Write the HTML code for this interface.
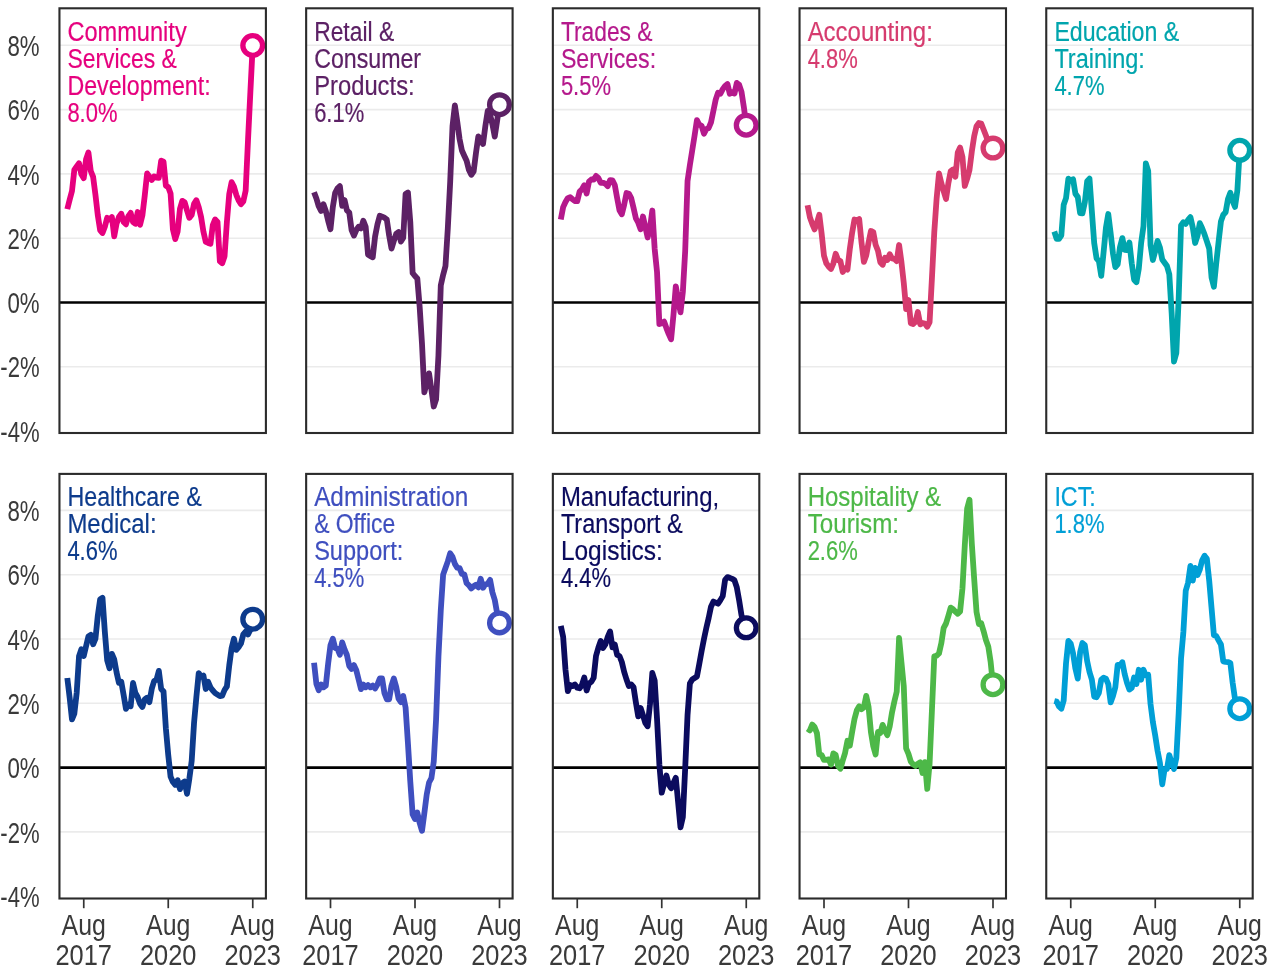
<!DOCTYPE html>
<html lang="en"><head><meta charset="utf-8"><title>Job ads growth by industry</title>
<style>
html,body{margin:0;padding:0;background:#fff}
svg{display:block}
text{font-family:"Liberation Sans",sans-serif}
.ax{font-size:28.9px;fill:#3a3a3a}
.tt{font-size:27.0px;stroke-width:0.2}
.grid line{stroke:#ebebeb;stroke-width:1.6}
.ln{fill:none;stroke-width:5.8;stroke-linejoin:round;stroke-linecap:butt}
</style></head><body>
<svg width="1280" height="979" viewBox="0 0 1280 979">
<rect width="1280" height="979" fill="#fff"/>
<text class="ax" x="39.6" y="55.9" text-anchor="end" textLength="32.2" lengthAdjust="spacingAndGlyphs">8%</text>
<text class="ax" x="39.6" y="120.2" text-anchor="end" textLength="32.2" lengthAdjust="spacingAndGlyphs">6%</text>
<text class="ax" x="39.6" y="184.5" text-anchor="end" textLength="32.2" lengthAdjust="spacingAndGlyphs">4%</text>
<text class="ax" x="39.6" y="248.8" text-anchor="end" textLength="32.2" lengthAdjust="spacingAndGlyphs">2%</text>
<text class="ax" x="39.6" y="313.1" text-anchor="end" textLength="32.2" lengthAdjust="spacingAndGlyphs">0%</text>
<text class="ax" x="39.6" y="377.4" text-anchor="end" textLength="39.3" lengthAdjust="spacingAndGlyphs">-2%</text>
<text class="ax" x="39.6" y="441.7" text-anchor="end" textLength="39.3" lengthAdjust="spacingAndGlyphs">-4%</text>
<g>
<g class="grid">
<line x1="59.45" x2="265.90" y1="45.30" y2="45.30"/>
<line x1="59.45" x2="265.90" y1="109.60" y2="109.60"/>
<line x1="59.45" x2="265.90" y1="173.90" y2="173.90"/>
<line x1="59.45" x2="265.90" y1="238.20" y2="238.20"/>
<line x1="59.45" x2="265.90" y1="366.80" y2="366.80"/>
</g>
<line x1="59.45" x2="265.90" y1="302.50" y2="302.50" stroke="#000" stroke-width="2.7"/>
<text class="tt" fill="#e6007e" stroke="#e6007e" x="67.40" y="40.7" textLength="119.3" lengthAdjust="spacingAndGlyphs">Community</text>
<text class="tt" fill="#e6007e" stroke="#e6007e" x="67.40" y="67.7" textLength="109.5" lengthAdjust="spacingAndGlyphs">Services &amp;</text>
<text class="tt" fill="#e6007e" stroke="#e6007e" x="67.40" y="94.8" textLength="143.2" lengthAdjust="spacingAndGlyphs">Development:</text>
<text class="tt" fill="#e6007e" stroke="#e6007e" x="67.40" y="121.8" textLength="50.1" lengthAdjust="spacingAndGlyphs">8.0%</text>
<polyline class="ln" stroke="#e6007e" points="67.30,209.1 69.65,199.7 71.99,191.0 74.34,169.9 76.69,166.4 79.03,163.3 81.38,174.3 83.73,178.1 86.08,159.2 88.42,152.5 90.77,171.0 93.12,176.8 95.46,194.8 97.81,215.3 100.16,230.4 102.50,233.0 104.85,226.8 107.20,217.8 109.55,219.4 111.89,217.0 114.24,236.3 116.59,223.5 118.93,217.0 121.28,213.7 123.63,221.9 125.97,224.3 128.32,216.1 130.67,212.9 133.02,221.9 135.36,223.8 137.71,212.0 140.06,224.8 142.40,215.3 144.75,195.6 147.10,173.5 149.44,176.8 151.79,180.0 154.14,176.4 156.49,177.6 158.83,177.9 161.18,160.7 163.53,161.7 165.87,185.8 168.22,187.1 170.57,193.5 172.91,229.4 175.26,239.1 177.61,231.7 179.96,208.8 182.30,200.9 184.65,202.2 187.00,210.4 189.34,217.8 191.69,215.0 194.04,203.8 196.38,200.2 198.73,207.1 201.08,217.0 203.43,231.7 205.77,241.9 208.12,242.9 210.47,243.7 212.81,225.2 215.16,219.4 217.51,221.9 219.86,261.3 222.20,263.2 224.55,256.3 226.90,221.9 229.24,194.0 231.59,182.2 233.94,186.6 236.28,194.8 238.63,200.5 240.98,204.2 243.32,201.4 245.67,190.7 248.02,140.0 250.37,92.0 252.71,45.5"/>
<circle cx="252.71" cy="45.5" r="9.85" fill="#fff" stroke="#e6007e" stroke-width="5.3"/>
<rect x="59.45" y="8.30" width="206.45" height="424.70" fill="none" stroke="#2b2b2b" stroke-width="2.1"/>
</g>
<g>
<g class="grid">
<line x1="306.15" x2="512.60" y1="45.30" y2="45.30"/>
<line x1="306.15" x2="512.60" y1="109.60" y2="109.60"/>
<line x1="306.15" x2="512.60" y1="173.90" y2="173.90"/>
<line x1="306.15" x2="512.60" y1="238.20" y2="238.20"/>
<line x1="306.15" x2="512.60" y1="366.80" y2="366.80"/>
</g>
<line x1="306.15" x2="512.60" y1="302.50" y2="302.50" stroke="#000" stroke-width="2.7"/>
<text class="tt" fill="#5c2165" stroke="#5c2165" x="314.15" y="40.7" textLength="80.0" lengthAdjust="spacingAndGlyphs">Retail &amp;</text>
<text class="tt" fill="#5c2165" stroke="#5c2165" x="314.15" y="67.7" textLength="106.9" lengthAdjust="spacingAndGlyphs">Consumer</text>
<text class="tt" fill="#5c2165" stroke="#5c2165" x="314.15" y="94.8" textLength="100.5" lengthAdjust="spacingAndGlyphs">Products:</text>
<text class="tt" fill="#5c2165" stroke="#5c2165" x="314.15" y="121.8" textLength="50.1" lengthAdjust="spacingAndGlyphs">6.1%</text>
<polyline class="ln" stroke="#5c2165" points="314.05,192.3 316.40,198.5 318.74,206.3 321.09,211.0 323.44,204.3 325.79,210.9 328.13,220.7 330.48,229.2 332.83,207.0 335.17,192.8 337.52,188.4 339.87,186.2 342.21,205.9 344.56,200.1 346.91,210.3 349.25,212.5 351.60,230.0 353.95,235.5 356.30,230.0 358.64,226.7 360.99,228.4 363.34,220.7 365.68,226.7 368.03,254.6 370.38,256.2 372.73,257.3 375.07,236.6 377.42,224.5 379.77,215.8 382.11,216.7 384.46,217.7 386.81,219.6 389.15,235.5 391.50,248.6 393.85,240.9 396.19,233.8 398.54,232.0 400.89,241.6 403.24,237.7 405.58,193.9 407.93,192.5 410.28,222.0 412.62,273.0 414.97,276.0 417.32,278.5 419.67,307.0 422.01,344.0 424.36,392.3 426.71,383.0 429.05,373.4 431.40,389.6 433.75,406.5 436.09,399.4 438.44,355.7 440.79,285.3 443.13,274.9 445.48,265.9 447.83,228.0 450.18,182.0 452.52,126.0 454.87,105.3 457.22,121.5 459.56,139.0 461.91,150.5 464.26,155.7 466.61,160.7 468.95,170.0 471.30,174.8 473.65,171.3 475.99,152.9 478.34,136.4 480.69,140.7 483.03,144.0 485.38,125.9 487.73,111.0 490.08,114.6 492.42,124.3 494.77,136.6 497.12,120.8 499.46,104.7"/>
<circle cx="499.46" cy="104.7" r="9.85" fill="#fff" stroke="#5c2165" stroke-width="5.3"/>
<rect x="306.15" y="8.30" width="206.45" height="424.70" fill="none" stroke="#2b2b2b" stroke-width="2.1"/>
</g>
<g>
<g class="grid">
<line x1="552.85" x2="759.30" y1="45.30" y2="45.30"/>
<line x1="552.85" x2="759.30" y1="109.60" y2="109.60"/>
<line x1="552.85" x2="759.30" y1="173.90" y2="173.90"/>
<line x1="552.85" x2="759.30" y1="238.20" y2="238.20"/>
<line x1="552.85" x2="759.30" y1="366.80" y2="366.80"/>
</g>
<line x1="552.85" x2="759.30" y1="302.50" y2="302.50" stroke="#000" stroke-width="2.7"/>
<text class="tt" fill="#b5198c" stroke="#b5198c" x="560.90" y="40.7" textLength="91.6" lengthAdjust="spacingAndGlyphs">Trades &amp;</text>
<text class="tt" fill="#b5198c" stroke="#b5198c" x="560.90" y="67.7" textLength="95.2" lengthAdjust="spacingAndGlyphs">Services:</text>
<text class="tt" fill="#b5198c" stroke="#b5198c" x="560.90" y="94.8" textLength="50.1" lengthAdjust="spacingAndGlyphs">5.5%</text>
<polyline class="ln" stroke="#b5198c" points="560.80,219.5 563.15,207.1 565.49,202.0 567.84,198.1 570.19,197.2 572.53,199.2 574.88,201.1 577.23,201.2 579.58,191.6 581.92,189.4 584.27,185.2 586.62,193.5 588.96,181.7 591.31,179.5 593.66,179.7 596.00,175.9 598.35,177.9 600.70,182.8 603.05,182.8 605.39,183.7 607.74,186.1 610.09,180.1 612.43,180.4 614.78,185.0 617.13,198.1 619.47,210.2 621.82,214.3 624.17,204.7 626.52,193.0 628.86,193.7 631.21,198.1 633.56,208.0 635.90,218.4 638.25,222.7 640.60,229.3 642.94,216.5 645.29,226.6 647.64,237.5 649.99,228.2 652.33,210.5 654.68,249.0 657.03,272.0 659.37,324.0 661.72,323.2 664.07,321.6 666.41,328.1 668.76,334.1 671.11,339.3 673.46,315.0 675.80,286.3 678.15,299.7 680.50,312.3 682.84,292.0 685.19,251.0 687.54,181.0 689.88,165.2 692.23,150.4 694.58,135.6 696.93,120.1 699.27,124.7 701.62,125.8 703.97,133.7 706.31,129.1 708.66,128.0 711.01,122.3 713.36,111.0 715.70,99.7 718.05,92.7 720.40,93.7 722.74,89.1 725.09,85.9 727.44,84.0 729.78,93.7 732.13,92.4 734.48,93.5 736.82,82.9 739.17,84.8 741.52,91.9 743.87,107.2 746.21,125.2"/>
<circle cx="746.21" cy="125.2" r="9.85" fill="#fff" stroke="#b5198c" stroke-width="5.3"/>
<rect x="552.85" y="8.30" width="206.45" height="424.70" fill="none" stroke="#2b2b2b" stroke-width="2.1"/>
</g>
<g>
<g class="grid">
<line x1="799.55" x2="1006.00" y1="45.30" y2="45.30"/>
<line x1="799.55" x2="1006.00" y1="109.60" y2="109.60"/>
<line x1="799.55" x2="1006.00" y1="173.90" y2="173.90"/>
<line x1="799.55" x2="1006.00" y1="238.20" y2="238.20"/>
<line x1="799.55" x2="1006.00" y1="366.80" y2="366.80"/>
</g>
<line x1="799.55" x2="1006.00" y1="302.50" y2="302.50" stroke="#000" stroke-width="2.7"/>
<text class="tt" fill="#d63b6e" stroke="#d63b6e" x="807.65" y="40.7" textLength="125.2" lengthAdjust="spacingAndGlyphs">Accounting:</text>
<text class="tt" fill="#d63b6e" stroke="#d63b6e" x="807.65" y="67.7" textLength="50.1" lengthAdjust="spacingAndGlyphs">4.8%</text>
<polyline class="ln" stroke="#d63b6e" points="807.55,205.3 809.90,217.3 812.24,223.9 814.59,229.4 816.94,222.8 819.28,214.7 821.63,233.7 823.98,255.6 826.33,263.3 828.67,266.6 831.02,269.0 833.37,263.3 835.71,253.7 838.06,260.0 840.41,261.1 842.75,272.0 845.10,268.2 847.45,269.6 849.80,249.1 852.14,232.7 854.49,219.5 856.84,220.8 859.18,219.0 861.53,242.5 863.88,261.9 866.22,255.6 868.57,242.5 870.92,231.0 873.27,232.1 875.61,244.7 877.96,250.7 880.31,262.2 882.65,264.8 885.00,257.8 887.35,260.0 889.69,254.3 892.04,258.4 894.39,258.9 896.74,261.1 899.08,245.0 901.43,262.0 903.78,283.0 906.12,309.0 908.47,300.0 910.82,323.2 913.16,324.0 915.51,321.6 917.86,312.0 920.21,324.3 922.55,323.2 924.90,323.7 927.25,326.7 929.59,322.1 931.94,278.0 934.29,232.0 936.63,198.4 938.98,173.4 941.33,183.1 943.68,191.3 946.02,199.0 948.37,183.1 950.72,171.1 953.06,169.5 955.41,176.8 957.76,152.5 960.11,147.6 962.45,156.9 964.80,185.9 967.15,178.7 969.49,170.0 971.84,151.4 974.19,136.1 976.53,126.2 978.88,123.0 981.23,123.5 983.57,129.5 985.92,135.5 988.27,142.1 990.62,146.5 992.96,148.1"/>
<circle cx="992.96" cy="148.1" r="9.85" fill="#fff" stroke="#d63b6e" stroke-width="5.3"/>
<rect x="799.55" y="8.30" width="206.45" height="424.70" fill="none" stroke="#2b2b2b" stroke-width="2.1"/>
</g>
<g>
<g class="grid">
<line x1="1046.25" x2="1252.70" y1="45.30" y2="45.30"/>
<line x1="1046.25" x2="1252.70" y1="109.60" y2="109.60"/>
<line x1="1046.25" x2="1252.70" y1="173.90" y2="173.90"/>
<line x1="1046.25" x2="1252.70" y1="238.20" y2="238.20"/>
<line x1="1046.25" x2="1252.70" y1="366.80" y2="366.80"/>
</g>
<line x1="1046.25" x2="1252.70" y1="302.50" y2="302.50" stroke="#000" stroke-width="2.7"/>
<text class="tt" fill="#00a5ad" stroke="#00a5ad" x="1054.40" y="40.7" textLength="124.8" lengthAdjust="spacingAndGlyphs">Education &amp;</text>
<text class="tt" fill="#00a5ad" stroke="#00a5ad" x="1054.40" y="67.7" textLength="90.5" lengthAdjust="spacingAndGlyphs">Training:</text>
<text class="tt" fill="#00a5ad" stroke="#00a5ad" x="1054.40" y="94.8" textLength="50.1" lengthAdjust="spacingAndGlyphs">4.7%</text>
<polyline class="ln" stroke="#00a5ad" points="1054.30,231.5 1056.65,238.8 1058.99,238.8 1061.34,235.3 1063.69,204.7 1066.03,198.1 1068.38,178.7 1070.73,180.8 1073.08,179.3 1075.42,193.7 1077.77,197.0 1080.12,213.1 1082.46,213.4 1084.81,202.5 1087.16,181.2 1089.50,178.7 1091.85,211.2 1094.20,243.0 1096.55,258.4 1098.89,261.1 1101.24,275.9 1103.59,252.3 1105.93,227.7 1108.28,214.0 1110.63,233.2 1112.97,253.4 1115.32,267.1 1117.67,264.4 1120.02,246.9 1122.36,238.1 1124.71,249.9 1127.06,250.2 1129.40,242.5 1131.75,263.3 1134.10,279.7 1136.44,282.2 1138.79,268.7 1141.14,243.0 1143.49,226.1 1145.83,163.5 1148.18,170.8 1150.53,245.0 1152.87,260.0 1155.22,251.2 1157.57,240.9 1159.91,247.4 1162.26,259.5 1164.61,262.7 1166.96,266.0 1169.30,274.2 1171.65,313.0 1174.00,361.5 1176.34,353.0 1178.69,298.0 1181.04,225.5 1183.38,222.2 1185.73,223.9 1188.08,219.9 1190.43,217.1 1192.77,227.5 1195.12,243.0 1197.47,235.9 1199.81,223.2 1202.16,228.3 1204.51,234.3 1206.86,241.4 1209.20,248.5 1211.55,277.5 1213.90,286.8 1216.24,263.3 1218.59,241.7 1220.94,221.4 1223.28,214.8 1225.63,212.3 1227.98,199.1 1230.33,192.8 1232.67,201.1 1235.02,206.9 1237.37,190.4 1239.71,150.3"/>
<circle cx="1239.71" cy="150.3" r="9.85" fill="#fff" stroke="#00a5ad" stroke-width="5.3"/>
<rect x="1046.25" y="8.30" width="206.45" height="424.70" fill="none" stroke="#2b2b2b" stroke-width="2.1"/>
</g>
<text class="ax" x="39.6" y="521.0" text-anchor="end" textLength="32.2" lengthAdjust="spacingAndGlyphs">8%</text>
<text class="ax" x="39.6" y="585.3" text-anchor="end" textLength="32.2" lengthAdjust="spacingAndGlyphs">6%</text>
<text class="ax" x="39.6" y="649.6" text-anchor="end" textLength="32.2" lengthAdjust="spacingAndGlyphs">4%</text>
<text class="ax" x="39.6" y="713.9" text-anchor="end" textLength="32.2" lengthAdjust="spacingAndGlyphs">2%</text>
<text class="ax" x="39.6" y="778.2" text-anchor="end" textLength="32.2" lengthAdjust="spacingAndGlyphs">0%</text>
<text class="ax" x="39.6" y="842.5" text-anchor="end" textLength="39.3" lengthAdjust="spacingAndGlyphs">-2%</text>
<text class="ax" x="39.6" y="906.8" text-anchor="end" textLength="39.3" lengthAdjust="spacingAndGlyphs">-4%</text>
<g>
<g class="grid">
<line x1="59.45" x2="265.90" y1="510.40" y2="510.40"/>
<line x1="59.45" x2="265.90" y1="574.70" y2="574.70"/>
<line x1="59.45" x2="265.90" y1="639.00" y2="639.00"/>
<line x1="59.45" x2="265.90" y1="703.30" y2="703.30"/>
<line x1="59.45" x2="265.90" y1="831.90" y2="831.90"/>
</g>
<line x1="59.45" x2="265.90" y1="767.60" y2="767.60" stroke="#000" stroke-width="2.7"/>
<text class="tt" fill="#0d3b8c" stroke="#0d3b8c" x="67.40" y="505.8" textLength="134.5" lengthAdjust="spacingAndGlyphs">Healthcare &amp;</text>
<text class="tt" fill="#0d3b8c" stroke="#0d3b8c" x="67.40" y="532.8" textLength="89.2" lengthAdjust="spacingAndGlyphs">Medical:</text>
<text class="tt" fill="#0d3b8c" stroke="#0d3b8c" x="67.40" y="559.9" textLength="50.1" lengthAdjust="spacingAndGlyphs">4.6%</text>
<polyline class="ln" stroke="#0d3b8c" points="67.30,678.0 69.65,697.7 71.99,719.4 74.34,713.6 76.69,692.8 79.03,656.1 81.38,649.2 83.73,656.1 86.08,646.2 88.42,636.4 90.77,634.8 93.12,644.3 95.46,638.6 97.81,615.6 100.16,599.2 102.50,597.9 104.85,632.0 107.20,660.5 109.55,668.3 111.89,653.9 114.24,659.4 116.59,672.5 118.93,682.9 121.28,681.8 123.63,695.0 125.97,708.9 128.32,704.8 130.67,706.2 133.02,683.0 135.36,692.8 137.71,697.2 140.06,703.7 142.40,707.0 144.75,699.4 147.10,697.7 149.44,702.1 151.79,688.7 154.14,681.0 156.49,679.7 158.83,670.9 161.18,689.0 163.53,691.5 165.87,728.4 168.22,754.7 170.57,776.6 172.91,782.0 175.26,784.8 177.61,780.2 179.96,789.1 182.30,783.1 184.65,781.5 187.00,793.8 189.34,778.7 191.69,760.9 194.04,723.0 196.38,697.0 198.73,673.1 201.08,676.7 203.43,675.5 205.77,689.0 208.12,681.8 210.47,687.4 212.81,690.5 215.16,693.1 217.51,694.6 219.86,696.1 222.20,695.6 224.55,690.0 226.90,686.4 229.24,665.5 231.59,648.1 233.94,638.7 236.28,649.9 238.63,647.1 240.98,643.5 243.32,634.3 245.67,631.5 248.02,634.5 250.37,629.7 252.71,619.2"/>
<circle cx="252.71" cy="619.2" r="9.85" fill="#fff" stroke="#0d3b8c" stroke-width="5.3"/>
<rect x="59.45" y="473.90" width="206.45" height="424.60" fill="none" stroke="#2b2b2b" stroke-width="2.1"/>
<line x1="83.75" x2="83.75" y1="898.50" y2="908.20" stroke="#333" stroke-width="1.7"/>
<text class="ax" x="83.75" y="935.4" text-anchor="middle" textLength="44.3" lengthAdjust="spacingAndGlyphs">Aug</text>
<text class="ax" x="83.75" y="965.2" text-anchor="middle" textLength="56.5" lengthAdjust="spacingAndGlyphs">2017</text>
<line x1="168.25" x2="168.25" y1="898.50" y2="908.20" stroke="#333" stroke-width="1.7"/>
<text class="ax" x="168.25" y="935.4" text-anchor="middle" textLength="44.3" lengthAdjust="spacingAndGlyphs">Aug</text>
<text class="ax" x="168.25" y="965.2" text-anchor="middle" textLength="56.5" lengthAdjust="spacingAndGlyphs">2020</text>
<line x1="252.75" x2="252.75" y1="898.50" y2="908.20" stroke="#333" stroke-width="1.7"/>
<text class="ax" x="252.75" y="935.4" text-anchor="middle" textLength="44.3" lengthAdjust="spacingAndGlyphs">Aug</text>
<text class="ax" x="252.75" y="965.2" text-anchor="middle" textLength="56.5" lengthAdjust="spacingAndGlyphs">2023</text>
</g>
<g>
<g class="grid">
<line x1="306.15" x2="512.60" y1="510.40" y2="510.40"/>
<line x1="306.15" x2="512.60" y1="574.70" y2="574.70"/>
<line x1="306.15" x2="512.60" y1="639.00" y2="639.00"/>
<line x1="306.15" x2="512.60" y1="703.30" y2="703.30"/>
<line x1="306.15" x2="512.60" y1="831.90" y2="831.90"/>
</g>
<line x1="306.15" x2="512.60" y1="767.60" y2="767.60" stroke="#000" stroke-width="2.7"/>
<text class="tt" fill="#3f4fbf" stroke="#3f4fbf" x="314.15" y="505.8" textLength="154.2" lengthAdjust="spacingAndGlyphs">Administration</text>
<text class="tt" fill="#3f4fbf" stroke="#3f4fbf" x="314.15" y="532.8" textLength="81.1" lengthAdjust="spacingAndGlyphs">&amp; Office</text>
<text class="tt" fill="#3f4fbf" stroke="#3f4fbf" x="314.15" y="559.9" textLength="89.1" lengthAdjust="spacingAndGlyphs">Support:</text>
<text class="tt" fill="#3f4fbf" stroke="#3f4fbf" x="314.15" y="586.9" textLength="50.1" lengthAdjust="spacingAndGlyphs">4.5%</text>
<polyline class="ln" stroke="#3f4fbf" points="314.05,662.7 316.40,684.0 318.74,690.2 321.09,684.5 323.44,687.3 325.79,685.6 328.13,663.7 330.48,645.2 332.83,638.8 335.17,647.9 337.52,649.0 339.87,654.7 342.21,642.4 344.56,649.5 346.91,655.0 349.25,665.9 351.60,668.9 353.95,665.1 356.30,670.3 358.64,679.6 360.99,689.1 363.34,684.5 365.68,687.3 368.03,685.1 370.38,687.3 372.73,685.6 375.07,688.4 377.42,684.5 379.77,678.5 382.11,678.5 384.46,693.3 386.81,699.3 389.15,699.3 391.50,685.6 393.85,678.5 396.19,686.7 398.54,698.7 400.89,702.2 403.24,696.0 405.58,707.5 407.93,743.1 410.28,781.4 412.62,814.2 414.97,819.1 417.32,812.6 419.67,823.0 422.01,830.8 424.36,813.1 426.71,794.5 429.05,782.5 431.40,778.1 433.75,761.7 436.09,719.1 438.44,656.9 440.79,610.2 443.13,574.6 445.48,568.0 447.83,561.4 450.18,553.3 452.52,556.8 454.87,563.9 457.22,567.7 459.56,568.1 461.91,573.9 464.26,574.3 466.61,583.2 468.95,585.3 471.30,588.5 473.65,586.3 475.99,584.8 478.34,587.3 480.69,578.7 483.03,587.8 485.38,584.3 487.73,583.8 490.08,579.9 492.42,592.4 494.77,600.0 497.12,613.2 499.46,622.9"/>
<circle cx="499.46" cy="622.9" r="9.85" fill="#fff" stroke="#3f4fbf" stroke-width="5.3"/>
<rect x="306.15" y="473.90" width="206.45" height="424.60" fill="none" stroke="#2b2b2b" stroke-width="2.1"/>
<line x1="330.50" x2="330.50" y1="898.50" y2="908.20" stroke="#333" stroke-width="1.7"/>
<text class="ax" x="330.50" y="935.4" text-anchor="middle" textLength="44.3" lengthAdjust="spacingAndGlyphs">Aug</text>
<text class="ax" x="330.50" y="965.2" text-anchor="middle" textLength="56.5" lengthAdjust="spacingAndGlyphs">2017</text>
<line x1="415.00" x2="415.00" y1="898.50" y2="908.20" stroke="#333" stroke-width="1.7"/>
<text class="ax" x="415.00" y="935.4" text-anchor="middle" textLength="44.3" lengthAdjust="spacingAndGlyphs">Aug</text>
<text class="ax" x="415.00" y="965.2" text-anchor="middle" textLength="56.5" lengthAdjust="spacingAndGlyphs">2020</text>
<line x1="499.50" x2="499.50" y1="898.50" y2="908.20" stroke="#333" stroke-width="1.7"/>
<text class="ax" x="499.50" y="935.4" text-anchor="middle" textLength="44.3" lengthAdjust="spacingAndGlyphs">Aug</text>
<text class="ax" x="499.50" y="965.2" text-anchor="middle" textLength="56.5" lengthAdjust="spacingAndGlyphs">2023</text>
</g>
<g>
<g class="grid">
<line x1="552.85" x2="759.30" y1="510.40" y2="510.40"/>
<line x1="552.85" x2="759.30" y1="574.70" y2="574.70"/>
<line x1="552.85" x2="759.30" y1="639.00" y2="639.00"/>
<line x1="552.85" x2="759.30" y1="703.30" y2="703.30"/>
<line x1="552.85" x2="759.30" y1="831.90" y2="831.90"/>
</g>
<line x1="552.85" x2="759.30" y1="767.60" y2="767.60" stroke="#000" stroke-width="2.7"/>
<text class="tt" fill="#0b0b5e" stroke="#0b0b5e" x="560.90" y="505.8" textLength="158.2" lengthAdjust="spacingAndGlyphs">Manufacturing,</text>
<text class="tt" fill="#0b0b5e" stroke="#0b0b5e" x="560.90" y="532.8" textLength="121.9" lengthAdjust="spacingAndGlyphs">Transport &amp;</text>
<text class="tt" fill="#0b0b5e" stroke="#0b0b5e" x="560.90" y="559.9" textLength="102.0" lengthAdjust="spacingAndGlyphs">Logistics:</text>
<text class="tt" fill="#0b0b5e" stroke="#0b0b5e" x="560.90" y="586.9" textLength="50.1" lengthAdjust="spacingAndGlyphs">4.4%</text>
<polyline class="ln" stroke="#0b0b5e" points="560.80,625.9 563.15,636.9 565.49,669.7 567.84,691.2 570.19,685.0 572.53,686.1 574.88,684.5 577.23,687.7 579.58,688.3 581.92,685.0 584.27,677.6 586.62,690.5 588.96,683.4 591.31,681.9 593.66,677.9 596.00,656.0 598.35,647.8 600.70,640.9 603.05,648.0 605.39,644.5 607.74,636.9 610.09,631.4 612.43,647.3 614.78,644.5 617.13,654.9 619.47,656.0 621.82,662.0 624.17,671.9 626.52,679.5 628.86,686.1 631.21,684.5 633.56,687.2 635.90,702.5 638.25,716.4 640.60,708.0 642.94,715.2 645.29,722.8 647.64,726.3 649.99,704.2 652.33,673.0 654.68,680.6 657.03,719.0 659.37,764.4 661.72,792.7 664.07,783.7 666.41,775.5 668.76,784.5 671.11,788.2 673.46,782.9 675.80,777.8 678.15,802.5 680.50,827.4 682.84,817.2 685.19,768.2 687.54,715.0 689.88,683.5 692.23,679.5 694.58,678.0 696.93,676.5 699.27,664.0 701.62,651.0 703.97,639.0 706.31,628.0 708.66,618.0 711.01,606.7 713.36,601.6 715.70,602.7 718.05,603.7 720.40,600.1 722.74,596.1 725.09,579.8 727.44,577.1 729.78,577.8 732.13,578.8 734.48,580.3 736.82,587.4 739.17,600.6 741.52,615.4 743.87,622.0 746.21,627.8"/>
<circle cx="746.21" cy="627.8" r="9.85" fill="#fff" stroke="#0b0b5e" stroke-width="5.3"/>
<rect x="552.85" y="473.90" width="206.45" height="424.60" fill="none" stroke="#2b2b2b" stroke-width="2.1"/>
<line x1="577.25" x2="577.25" y1="898.50" y2="908.20" stroke="#333" stroke-width="1.7"/>
<text class="ax" x="577.25" y="935.4" text-anchor="middle" textLength="44.3" lengthAdjust="spacingAndGlyphs">Aug</text>
<text class="ax" x="577.25" y="965.2" text-anchor="middle" textLength="56.5" lengthAdjust="spacingAndGlyphs">2017</text>
<line x1="661.75" x2="661.75" y1="898.50" y2="908.20" stroke="#333" stroke-width="1.7"/>
<text class="ax" x="661.75" y="935.4" text-anchor="middle" textLength="44.3" lengthAdjust="spacingAndGlyphs">Aug</text>
<text class="ax" x="661.75" y="965.2" text-anchor="middle" textLength="56.5" lengthAdjust="spacingAndGlyphs">2020</text>
<line x1="746.25" x2="746.25" y1="898.50" y2="908.20" stroke="#333" stroke-width="1.7"/>
<text class="ax" x="746.25" y="935.4" text-anchor="middle" textLength="44.3" lengthAdjust="spacingAndGlyphs">Aug</text>
<text class="ax" x="746.25" y="965.2" text-anchor="middle" textLength="56.5" lengthAdjust="spacingAndGlyphs">2023</text>
</g>
<g>
<g class="grid">
<line x1="799.55" x2="1006.00" y1="510.40" y2="510.40"/>
<line x1="799.55" x2="1006.00" y1="574.70" y2="574.70"/>
<line x1="799.55" x2="1006.00" y1="639.00" y2="639.00"/>
<line x1="799.55" x2="1006.00" y1="703.30" y2="703.30"/>
<line x1="799.55" x2="1006.00" y1="831.90" y2="831.90"/>
</g>
<line x1="799.55" x2="1006.00" y1="767.60" y2="767.60" stroke="#000" stroke-width="2.7"/>
<text class="tt" fill="#4db848" stroke="#4db848" x="807.65" y="505.8" textLength="133.5" lengthAdjust="spacingAndGlyphs">Hospitality &amp;</text>
<text class="tt" fill="#4db848" stroke="#4db848" x="807.65" y="532.8" textLength="91.4" lengthAdjust="spacingAndGlyphs">Tourism:</text>
<text class="tt" fill="#4db848" stroke="#4db848" x="807.65" y="559.9" textLength="50.1" lengthAdjust="spacingAndGlyphs">2.6%</text>
<polyline class="ln" stroke="#4db848" points="807.55,728.7 809.90,730.4 812.24,724.6 814.59,727.1 816.94,733.1 819.28,754.5 821.63,755.0 823.98,759.9 826.33,759.9 828.67,759.4 831.02,764.6 833.37,753.4 835.71,755.0 838.06,765.9 840.41,768.7 842.75,760.5 845.10,752.8 847.45,740.8 849.80,745.7 852.14,732.0 854.49,718.9 856.84,710.2 859.18,706.3 861.53,709.1 863.88,707.4 866.22,695.9 868.57,706.9 870.92,732.0 873.27,746.2 875.61,754.5 877.96,732.0 880.31,733.1 882.65,724.9 885.00,730.9 887.35,735.1 889.69,726.6 892.04,712.3 894.39,701.4 896.74,691.6 899.08,638.0 901.43,662.3 903.78,686.4 906.12,748.4 908.47,753.9 910.82,761.6 913.16,764.3 915.51,765.9 917.86,763.7 920.21,762.4 922.55,773.0 924.90,762.1 927.25,788.9 929.59,763.7 931.94,710.2 934.29,656.3 936.63,655.7 938.98,653.5 941.33,643.2 943.68,627.8 946.02,623.5 948.37,615.8 950.72,607.6 953.06,609.2 955.41,611.7 957.76,613.8 960.11,611.4 962.45,588.5 964.80,545.2 967.15,508.4 969.49,499.7 971.84,544.0 974.19,579.0 976.53,612.0 978.88,624.0 981.23,623.2 983.57,631.1 985.92,639.9 988.27,646.4 990.62,661.7 992.96,684.7"/>
<circle cx="992.96" cy="684.7" r="9.85" fill="#fff" stroke="#4db848" stroke-width="5.3"/>
<rect x="799.55" y="473.90" width="206.45" height="424.60" fill="none" stroke="#2b2b2b" stroke-width="2.1"/>
<line x1="824.00" x2="824.00" y1="898.50" y2="908.20" stroke="#333" stroke-width="1.7"/>
<text class="ax" x="824.00" y="935.4" text-anchor="middle" textLength="44.3" lengthAdjust="spacingAndGlyphs">Aug</text>
<text class="ax" x="824.00" y="965.2" text-anchor="middle" textLength="56.5" lengthAdjust="spacingAndGlyphs">2017</text>
<line x1="908.50" x2="908.50" y1="898.50" y2="908.20" stroke="#333" stroke-width="1.7"/>
<text class="ax" x="908.50" y="935.4" text-anchor="middle" textLength="44.3" lengthAdjust="spacingAndGlyphs">Aug</text>
<text class="ax" x="908.50" y="965.2" text-anchor="middle" textLength="56.5" lengthAdjust="spacingAndGlyphs">2020</text>
<line x1="993.00" x2="993.00" y1="898.50" y2="908.20" stroke="#333" stroke-width="1.7"/>
<text class="ax" x="993.00" y="935.4" text-anchor="middle" textLength="44.3" lengthAdjust="spacingAndGlyphs">Aug</text>
<text class="ax" x="993.00" y="965.2" text-anchor="middle" textLength="56.5" lengthAdjust="spacingAndGlyphs">2023</text>
</g>
<g>
<g class="grid">
<line x1="1046.25" x2="1252.70" y1="510.40" y2="510.40"/>
<line x1="1046.25" x2="1252.70" y1="574.70" y2="574.70"/>
<line x1="1046.25" x2="1252.70" y1="639.00" y2="639.00"/>
<line x1="1046.25" x2="1252.70" y1="703.30" y2="703.30"/>
<line x1="1046.25" x2="1252.70" y1="831.90" y2="831.90"/>
</g>
<line x1="1046.25" x2="1252.70" y1="767.60" y2="767.60" stroke="#000" stroke-width="2.7"/>
<text class="tt" fill="#009fd6" stroke="#009fd6" x="1054.40" y="505.8" textLength="41.4" lengthAdjust="spacingAndGlyphs">ICT:</text>
<text class="tt" fill="#009fd6" stroke="#009fd6" x="1054.40" y="532.8" textLength="50.1" lengthAdjust="spacingAndGlyphs">1.8%</text>
<polyline class="ln" stroke="#009fd6" points="1054.30,701.0 1056.65,701.6 1058.99,706.5 1061.34,708.7 1063.69,700.5 1066.03,663.3 1068.38,640.9 1070.73,643.6 1073.08,653.4 1075.42,668.7 1077.77,678.6 1080.12,652.3 1082.46,643.0 1084.81,645.2 1087.16,661.1 1089.50,672.0 1091.85,679.7 1094.20,696.6 1096.55,697.2 1098.89,692.8 1101.24,679.7 1103.59,677.7 1105.93,678.6 1108.28,684.1 1110.63,702.4 1112.97,696.1 1115.32,687.3 1117.67,664.9 1120.02,665.5 1122.36,662.2 1124.71,674.2 1127.06,683.0 1129.40,689.5 1131.75,687.9 1134.10,677.5 1136.44,684.1 1138.79,669.8 1141.14,679.7 1143.49,669.8 1145.83,675.3 1148.18,674.8 1150.53,704.0 1152.87,722.0 1155.22,735.4 1157.57,750.7 1159.91,762.7 1162.26,784.3 1164.61,769.0 1166.96,769.0 1169.30,755.1 1171.65,762.7 1174.00,769.0 1176.34,757.8 1178.69,713.0 1181.04,658.5 1183.38,632.0 1185.73,590.8 1188.08,582.7 1190.43,565.9 1192.77,580.6 1195.12,567.9 1197.47,575.0 1199.81,569.5 1202.16,560.3 1204.51,555.7 1206.86,558.8 1209.20,580.6 1211.55,608.0 1213.90,635.3 1216.24,636.0 1218.59,640.4 1220.94,644.5 1223.28,661.4 1225.63,661.9 1227.98,662.1 1230.33,662.9 1232.67,682.8 1235.02,699.2 1237.37,704.8 1239.71,708.7"/>
<circle cx="1239.71" cy="708.7" r="9.85" fill="#fff" stroke="#009fd6" stroke-width="5.3"/>
<rect x="1046.25" y="473.90" width="206.45" height="424.60" fill="none" stroke="#2b2b2b" stroke-width="2.1"/>
<line x1="1070.75" x2="1070.75" y1="898.50" y2="908.20" stroke="#333" stroke-width="1.7"/>
<text class="ax" x="1070.75" y="935.4" text-anchor="middle" textLength="44.3" lengthAdjust="spacingAndGlyphs">Aug</text>
<text class="ax" x="1070.75" y="965.2" text-anchor="middle" textLength="56.5" lengthAdjust="spacingAndGlyphs">2017</text>
<line x1="1155.25" x2="1155.25" y1="898.50" y2="908.20" stroke="#333" stroke-width="1.7"/>
<text class="ax" x="1155.25" y="935.4" text-anchor="middle" textLength="44.3" lengthAdjust="spacingAndGlyphs">Aug</text>
<text class="ax" x="1155.25" y="965.2" text-anchor="middle" textLength="56.5" lengthAdjust="spacingAndGlyphs">2020</text>
<line x1="1239.75" x2="1239.75" y1="898.50" y2="908.20" stroke="#333" stroke-width="1.7"/>
<text class="ax" x="1239.75" y="935.4" text-anchor="middle" textLength="44.3" lengthAdjust="spacingAndGlyphs">Aug</text>
<text class="ax" x="1239.75" y="965.2" text-anchor="middle" textLength="56.5" lengthAdjust="spacingAndGlyphs">2023</text>
</g>
</svg></body></html>
